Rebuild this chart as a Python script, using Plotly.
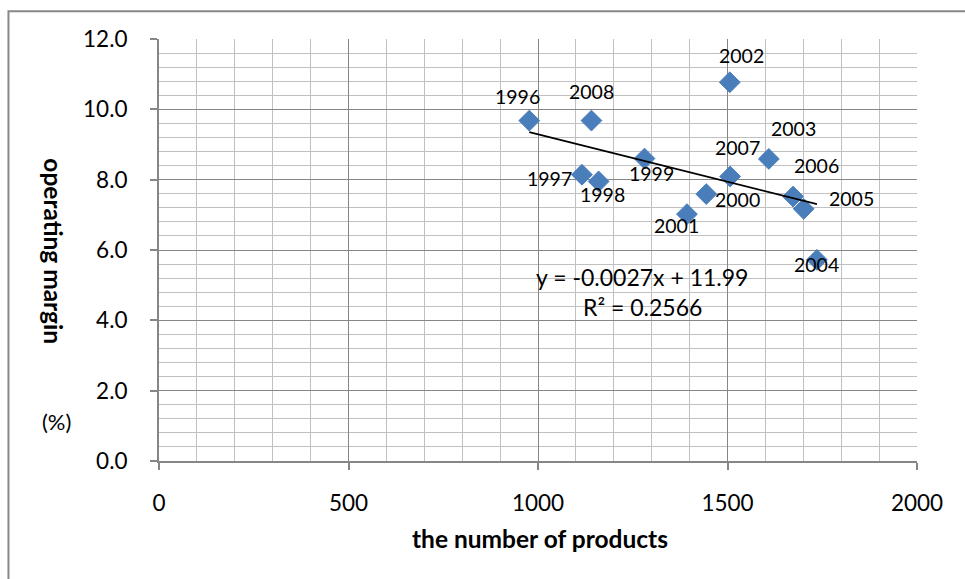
import plotly.graph_objects as go

# ---- data ----
years = ["1996", "1997", "1998", "1999", "2000", "2001", "2002",
         "2003", "2004", "2005", "2006", "2007", "2008"]
products = [977, 1116, 1160, 1281, 1444, 1393, 1506, 1609, 1736, 1701, 1673, 1507, 1141]
margin = [9.68, 8.14, 7.95, 8.60, 7.59, 7.02, 10.77, 8.59, 5.72, 7.17, 7.52, 8.09, 9.68]

SLOPE = -0.0027
INTERCEPT = 11.99
eq_text = "y = -0.0027x + 11.99"
r2_text = "R² = 0.2566"

x_ticks = [0, 500, 1000, 1500, 2000]
y_ticks = [0, 2, 4, 6, 8, 10, 12]

# label pixel offsets (style)
label_offsets = {
    "1996": (-12, 24), "1997": (-32, -4), "1998": (4, -13), "1999": (7, -15),
    "2000": (31, -5), "2001": (-10, -11), "2002": (12, 27), "2003": (25, 30),
    "2004": (0, -5), "2005": (48, 10), "2006": (23, 31), "2007": (7, 29),
    "2008": (0, 29),
}

FONT = "Lato, Carlito, Calibri, sans-serif"
MAJOR = "#868686"
MINOR = "#c0c0c0"

fig = go.Figure()

fig.add_trace(go.Scatter(
    x=products, y=margin, mode="markers",
    marker=dict(symbol="diamond", size=16, color="#4a7ebb",
                line=dict(color="#4a7ebb", width=1)),
    showlegend=False, hoverinfo="x+y",
))

xmin, xmax = min(products), max(products)
fig.add_trace(go.Scatter(
    x=[xmin, xmax], y=[SLOPE * xmin + INTERCEPT, SLOPE * xmax + INTERCEPT],
    mode="lines", line=dict(color="black", width=1.8),
    showlegend=False, hoverinfo="skip",
))

annotations = []
for yr, xv, yv in zip(years, products, margin):
    dx, dy = label_offsets[yr]
    annotations.append(dict(
        x=xv, y=yv, xref="x", yref="y", text=yr, showarrow=False,
        xshift=dx, yshift=dy, font=dict(family=FONT, size=19.5, color="black"),
    ))

annotations += [
    dict(x=0.6368, y=0.4367, xref="paper", yref="paper", text=eq_text,
         showarrow=False, font=dict(family=FONT, size=23, color="black")),
    dict(x=0.638, y=0.3656, xref="paper", yref="paper", text=r2_text,
         showarrow=False, font=dict(family=FONT, size=23, color="black")),
    dict(x=0.5026, y=-0.183, xref="paper", yref="paper",
         text="<b>the number of products</b>", showarrow=False,
         xanchor="center", yanchor="middle",
         font=dict(family=FONT, size=24.5, color="black")),
    dict(x=-0.1394, y=0.496, xref="paper", yref="paper",
         text="<b>operating margin</b>", showarrow=False, textangle=90,
         xanchor="center", yanchor="middle",
         font=dict(family=FONT, size=24.5, color="black")),
    dict(x=-0.135, y=0.093, xref="paper", yref="paper", text="(%)",
         showarrow=False, xanchor="center", yanchor="middle",
         font=dict(family=FONT, size=22, color="black")),
]

fig.update_layout(
    width=965, height=579,
    margin=dict(l=159, r=48, t=39, b=118),
    paper_bgcolor="white", plot_bgcolor="white",
    annotations=annotations,
    shapes=[dict(type="rect", xref="paper", yref="paper",
                 x0=-0.1986, x1=1.08, y0=-0.31, y1=1.066,
                 line=dict(color="#888888", width=2), layer="below")],
    xaxis=dict(
        range=[0, 2000], tickvals=x_ticks, ticktext=[str(v) for v in x_ticks],
        showgrid=True, gridcolor=MAJOR, gridwidth=1.3,
        minor=dict(dtick=100, showgrid=True, gridcolor=MINOR, gridwidth=1.3),
        showline=True, linecolor=MAJOR, linewidth=2,
        ticks="outside", ticklen=7, tickcolor=MAJOR, tickwidth=1.5,
        ticklabelstandoff=14,
        zeroline=False, tickfont=dict(family=FONT, size=22.5, color="black"),
    ),
    yaxis=dict(
        range=[0, 12], tickvals=y_ticks, ticktext=[f"{v:.1f}" for v in y_ticks],
        showgrid=True, gridcolor=MAJOR, gridwidth=1.3,
        minor=dict(dtick=0.4, showgrid=True, gridcolor=MINOR, gridwidth=1.3),
        showline=True, linecolor=MAJOR, linewidth=2,
        ticks="outside", ticklen=7, tickcolor=MAJOR, tickwidth=1.5,
        ticklabelstandoff=18,
        zeroline=False, tickfont=dict(family=FONT, size=22.5, color="black"),
    ),
)

fig.write_html(
    "out.html",
    config={"displayModeBar": False},
    post_script="document.body.style.margin='0';document.body.style.overflow='hidden';",
)
